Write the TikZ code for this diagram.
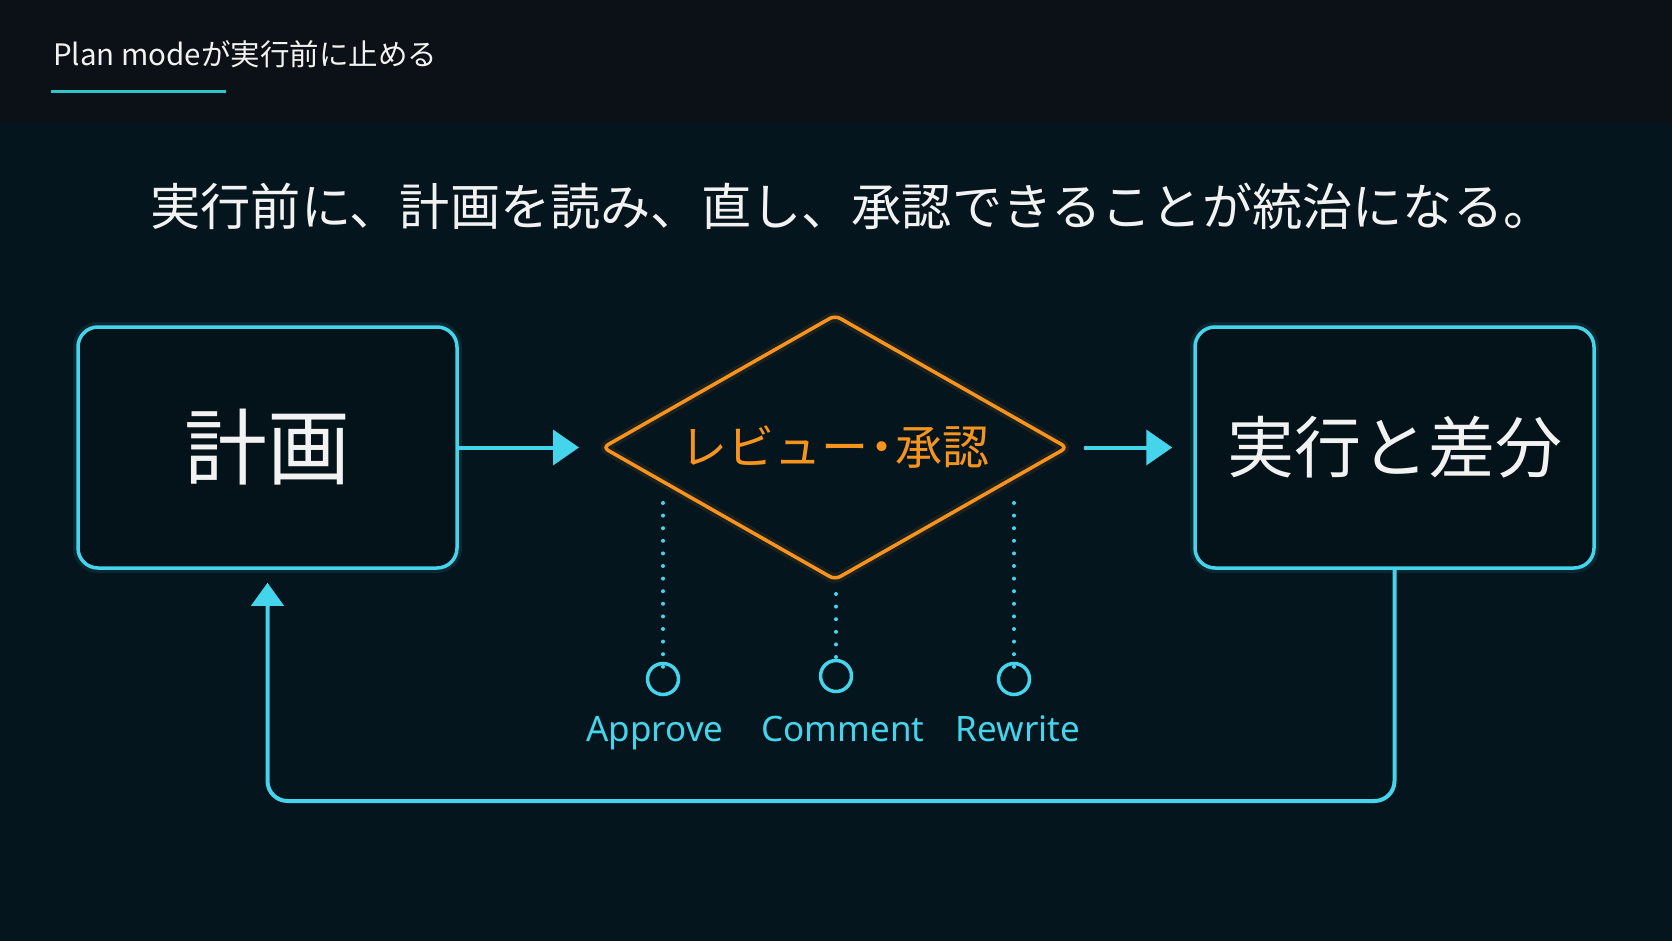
\documentclass[tikz,border=0pt]{standalone}
\usepackage{fontspec}
\setmainfont{Noto Sans CJK JP}
\newfontfamily\latfont{Noto Sans}
\usetikzlibrary{arrows.meta,shapes.geometric,calc}
\definecolor{hdrbg}{HTML}{0B1116}
\definecolor{bodybg}{HTML}{05151D}
\definecolor{cyanl}{HTML}{44D5EC}
\definecolor{tealul}{HTML}{2EC6C8}
\definecolor{orng}{HTML}{F7941D}
\definecolor{wtxt}{HTML}{F2F2F2}
\tikzset{
  glow/.style={preaction={draw=#1, line width=10pt, opacity=0.10}},
  box/.style={draw=cyanl, line width=3.5pt, rounded corners=20pt, fill=bodybg!85!black,
    minimum width=379pt, minimum height=241pt, inner sep=0pt, glow=cyanl},
  conn/.style={draw=cyanl, line width=4pt, -{Triangle[length=26pt,width=35pt]}},
  dots/.style={draw=cyanl, line width=4pt, line cap=round, dash pattern=on 0pt off 12.6pt},
  opt/.style={circle, draw=cyanl, line width=3.5pt, minimum size=31pt, inner sep=0pt},
  optlabel/.style={text=cyanl, font=\latfont\fontsize{35}{40}\selectfont, anchor=base, inner sep=0pt},
}
\begin{document}
\begin{tikzpicture}[x=1pt,y=-1pt]
\useasboundingbox (0,0) rectangle (1672,941);
\fill[bodybg] (0,0) rectangle (1672,941);
\fill[hdrbg] (0,0) rectangle (1672,122);
% header
\node[anchor=west, inner sep=0pt, text=wtxt, font=\fontsize{29.5}{34}\selectfont] (hdr) at (53,54) {Plan modeが実行前に止める};
\coordinate (ulA) at (51,92);
\coordinate (ulB) at (226,92);
\draw[tealul, line width=3pt] (ulA) -- (ulB);
% subtitle
\node[inner sep=0pt, text=wtxt, font=\fontsize{50.2}{56}\selectfont] (sub) at (852,206) {実行前に、計画を読み、直し、承認できることが統治になる。};
% boxes
\node[box, text=wtxt, font=\fontsize{83}{90}\selectfont] (plan) at (267.5,447.5) {計画};
\node[box, minimum width=399pt, text=wtxt, font=\fontsize{67}{75}\selectfont] (exec) at (1394.5,447.5) {実行と差分};
% diamond
\node[diamond, draw=orng, line width=3.5pt, rounded corners=6pt, shape aspect=1.758,
  minimum width=464pt, minimum height=264pt, outer sep=0pt,
  inner sep=0pt, text=orng, font=\fontsize{47}{52}\selectfont, glow=orng] (rev) at (835,447.5)
  {\raisebox{-2pt}{レビュー\hspace{-0.21em}・\hspace{-0.21em}承認}};
% arrows
\draw[conn] (plan.east) -- ([xshift=-24pt]rev.west);
\draw[conn] ([xshift=17pt]rev.east) -- ([xshift=-21pt]exec.west);
\coordinate (loopR) at (1394.5,801);
\coordinate (loopL) at (267.5,801);
\draw[draw=cyanl, line width=4pt, rounded corners=20pt, -{Triangle[length=23pt,width=32pt]}, shorten >=13pt]
  (exec.south) -- (loopR) -- (loopL) -- (plan.south);
% options
\node[opt] (oA) at (663,679) {};
\node[opt] (oC) at (836,676) {};
\node[opt] (oR) at (1014,679) {};
\coordinate (dA) at (663,503);
\coordinate (dC) at (836,594);
\coordinate (dR) at (1014,503);
\draw[dots] (dA) -- ([yshift=-10pt]oA.north);
\draw[dots] (dC) -- ([yshift=-10pt]oC.north);
\draw[dots] (dR) -- ([yshift=-10pt]oR.north);
\node[optlabel] (lA) at (655,741) {Approve};
\node[optlabel] (lC) at (843,741) {Comment};
\node[optlabel] (lR) at (1018,741) {Rewrite};
\end{tikzpicture}
\end{document}
